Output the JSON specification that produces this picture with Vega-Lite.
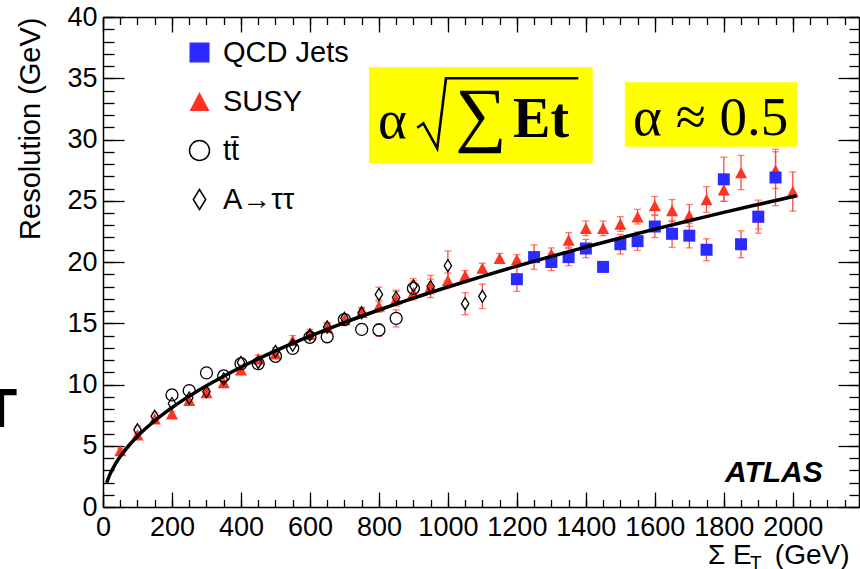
{
  "$schema": "https://vega.github.io/schema/vega-lite/v6.json",
  "width": 756,
  "height": 490,
  "autosize": {"type": "none"},
  "padding": {"left": 103, "top": 17, "right": 1, "bottom": 62},
  "background": "white",
  "config": {
    "view": {"stroke": null},
    "axis": {
      "grid": false,
      "domainColor": "#000",
      "domainWidth": 1.5,
      "tickColor": "#000",
      "tickWidth": 1.3,
      "labelColor": "#000",
      "labelFont": "Liberation Sans",
      "labelFlush": false,
      "labelOverlap": false,
      "format": "d"
    },
    "legend": {
      "orient": "none",
      "legendX": 82,
      "legendY": 21,
      "padding": 0,
      "labelFont": "Liberation Sans",
      "labelFontSize": 29,
      "labelColor": "#000",
      "labelOffset": 9,
      "symbolSize": 400,
      "symbolStrokeWidth": 1.5,
      "rowPadding": 19
    }
  },
  "datasets": {
    "boxes": [
      {"x1": 771, "x2": 1420, "y1": 28.06, "y2": 35.9},
      {"x1": 1513, "x2": 2012, "y1": 29.41, "y2": 34.67}
    ],
    "fit": [
      {"et": 10.7, "res": 1.98}, {"et": 20, "res": 2.66}, {"et": 35, "res": 3.47},
      {"et": 50, "res": 4.12}, {"et": 75, "res": 5.02}, {"et": 100, "res": 5.78},
      {"et": 150, "res": 7.04}, {"et": 200, "res": 8.11}, {"et": 250, "res": 9.05},
      {"et": 300, "res": 9.9}, {"et": 350, "res": 10.68}, {"et": 400, "res": 11.41},
      {"et": 500, "res": 12.74}, {"et": 600, "res": 13.94}, {"et": 700, "res": 15.05},
      {"et": 800, "res": 16.08}, {"et": 900, "res": 17.05}, {"et": 1000, "res": 17.96},
      {"et": 1100, "res": 18.83}, {"et": 1200, "res": 19.66}, {"et": 1300, "res": 20.46},
      {"et": 1400, "res": 21.22}, {"et": 1500, "res": 21.96}, {"et": 1600, "res": 22.68},
      {"et": 1700, "res": 23.37}, {"et": 1800, "res": 24.05}, {"et": 1900, "res": 24.7},
      {"et": 2011, "res": 25.41}
    ],
    "radical": [
      {"i": 0, "et": 911, "res": 30.96},
      {"i": 1, "et": 929, "res": 31.32},
      {"i": 2, "et": 969, "res": 29.28},
      {"i": 3, "et": 994.5, "res": 35.0},
      {"i": 4, "et": 1378, "res": 35.0}
    ],
    "serif": [
      {"t": "α", "et": 797, "res": 30.1},
      {"t": "α ≈ 0.5", "et": 1537, "res": 30.33}
    ],
    "sigma": [{"t": "∑", "et": 1096, "res": 31.9}],
    "bold": [{"t": "Et", "et": 1189, "res": 30.2}],
    "atlas": [{"t": "ATLAS", "et": 2087, "res": 2.07}],
    "xtitle": [
      {"t": "Σ E", "et": 1754, "res": -4.65},
      {"t": "(GeV)", "et": 1948, "res": -4.65}
    ],
    "xsub": [{"t": "T", "et": 1876, "res": -5.05}],
    "edge": [{"t": "T", "et": -298.6, "res": 6.53}],
    "pts": [
      {"series": "SUSY", "et": 50, "res": 4.6, "lo": 4.4, "hi": 4.8},
      {"series": "SUSY", "et": 100, "res": 5.9, "lo": 5.7, "hi": 6.1},
      {"series": "SUSY", "et": 150, "res": 7.2, "lo": 7.0, "hi": 7.4},
      {"series": "SUSY", "et": 200, "res": 7.6, "lo": 7.4, "hi": 7.8},
      {"series": "SUSY", "et": 250, "res": 8.7, "lo": 8.4, "hi": 9.0},
      {"series": "SUSY", "et": 300, "res": 9.35, "lo": 9.05, "hi": 9.65},
      {"series": "SUSY", "et": 350, "res": 10.15, "lo": 9.85, "hi": 10.45},
      {"series": "SUSY", "et": 400, "res": 11.2, "lo": 10.9, "hi": 11.5},
      {"series": "SUSY", "et": 450, "res": 12.1, "lo": 11.8, "hi": 12.4},
      {"series": "SUSY", "et": 500, "res": 12.5, "lo": 12.1, "hi": 12.9},
      {"series": "SUSY", "et": 550, "res": 13.6, "lo": 13.2, "hi": 14.0},
      {"series": "SUSY", "et": 600, "res": 14.1, "lo": 13.7, "hi": 14.5},
      {"series": "SUSY", "et": 650, "res": 14.65, "lo": 14.25, "hi": 15.05},
      {"series": "SUSY", "et": 700, "res": 15.3, "lo": 14.9, "hi": 15.7},
      {"series": "SUSY", "et": 750, "res": 15.9, "lo": 15.5, "hi": 16.3},
      {"series": "SUSY", "et": 800, "res": 16.4, "lo": 15.9, "hi": 16.9},
      {"series": "SUSY", "et": 850, "res": 17.0, "lo": 16.4, "hi": 17.6},
      {"series": "SUSY", "et": 900, "res": 17.5, "lo": 16.9, "hi": 18.1},
      {"series": "SUSY", "et": 950, "res": 18.0, "lo": 17.4, "hi": 18.6},
      {"series": "SUSY", "et": 1000, "res": 18.5, "lo": 17.9, "hi": 19.1},
      {"series": "SUSY", "et": 1050, "res": 18.9, "lo": 18.5, "hi": 19.3},
      {"series": "SUSY", "et": 1100, "res": 19.5, "lo": 19.1, "hi": 19.9},
      {"series": "SUSY", "et": 1150, "res": 20.3, "lo": 19.9, "hi": 20.7},
      {"series": "SUSY", "et": 1200, "res": 20.2, "lo": 19.8, "hi": 20.6},
      {"series": "SUSY", "et": 1250, "res": 20.4, "lo": 20.0, "hi": 20.8},
      {"series": "SUSY", "et": 1300, "res": 20.65, "lo": 20.15, "hi": 21.15},
      {"series": "SUSY", "et": 1350, "res": 21.8, "lo": 21.2, "hi": 22.4},
      {"series": "SUSY", "et": 1400, "res": 22.75, "lo": 22.15, "hi": 23.35},
      {"series": "SUSY", "et": 1450, "res": 22.75, "lo": 22.15, "hi": 23.35},
      {"series": "SUSY", "et": 1500, "res": 23.1, "lo": 22.5, "hi": 23.7},
      {"series": "SUSY", "et": 1550, "res": 23.7, "lo": 23.1, "hi": 24.3},
      {"series": "SUSY", "et": 1600, "res": 24.6, "lo": 23.85, "hi": 25.35},
      {"series": "SUSY", "et": 1650, "res": 24.2, "lo": 23.3, "hi": 25.1},
      {"series": "SUSY", "et": 1700, "res": 23.8, "lo": 22.9, "hi": 24.7},
      {"series": "SUSY", "et": 1750, "res": 25.1, "lo": 24.05, "hi": 26.15},
      {"series": "SUSY", "et": 1800, "res": 25.9, "lo": 24.95, "hi": 26.85},
      {"series": "SUSY", "et": 1850, "res": 27.3, "lo": 25.9, "hi": 28.7},
      {"series": "SUSY", "et": 1900, "res": 23.7, "lo": 22.7, "hi": 24.7},
      {"series": "SUSY", "et": 1950, "res": 27.5, "lo": 26.0, "hi": 29.0},
      {"series": "SUSY", "et": 2000, "res": 25.75, "lo": 24.15, "hi": 27.35},
      {"series": "tt̄", "et": 200, "res": 9.15, "lo": 8.85, "hi": 9.45},
      {"series": "tt̄", "et": 250, "res": 9.5, "lo": 9.2, "hi": 9.8},
      {"series": "tt̄", "et": 300, "res": 10.95, "lo": 10.65, "hi": 11.25},
      {"series": "tt̄", "et": 350, "res": 10.7, "lo": 10.4, "hi": 11.0},
      {"series": "tt̄", "et": 400, "res": 11.7, "lo": 11.4, "hi": 12.0},
      {"series": "tt̄", "et": 450, "res": 11.7, "lo": 11.4, "hi": 12.0},
      {"series": "tt̄", "et": 500, "res": 12.3, "lo": 12.0, "hi": 12.6},
      {"series": "tt̄", "et": 550, "res": 12.95, "lo": 12.65, "hi": 13.25},
      {"series": "tt̄", "et": 600, "res": 13.85, "lo": 13.45, "hi": 14.25},
      {"series": "tt̄", "et": 650, "res": 13.9, "lo": 13.5, "hi": 14.3},
      {"series": "tt̄", "et": 700, "res": 15.3, "lo": 14.9, "hi": 15.7},
      {"series": "tt̄", "et": 750, "res": 14.5, "lo": 14.1, "hi": 14.9},
      {"series": "tt̄", "et": 800, "res": 14.45, "lo": 13.95, "hi": 14.95},
      {"series": "tt̄", "et": 850, "res": 15.4, "lo": 14.7, "hi": 16.1},
      {"series": "tt̄", "et": 900, "res": 17.85, "lo": 17.25, "hi": 18.45},
      {"series": "A→ττ", "et": 100, "res": 6.3, "lo": 6.0, "hi": 6.6},
      {"series": "A→ττ", "et": 150, "res": 7.4, "lo": 7.1, "hi": 7.7},
      {"series": "A→ττ", "et": 200, "res": 8.45, "lo": 8.15, "hi": 8.75},
      {"series": "A→ττ", "et": 250, "res": 8.9, "lo": 8.6, "hi": 9.2},
      {"series": "A→ττ", "et": 300, "res": 9.4, "lo": 9.1, "hi": 9.7},
      {"series": "A→ττ", "et": 350, "res": 10.45, "lo": 10.15, "hi": 10.75},
      {"series": "A→ττ", "et": 400, "res": 11.8, "lo": 11.5, "hi": 12.1},
      {"series": "A→ττ", "et": 450, "res": 11.8, "lo": 11.5, "hi": 12.1},
      {"series": "A→ττ", "et": 500, "res": 12.7, "lo": 12.4, "hi": 13.0},
      {"series": "A→ττ", "et": 550, "res": 13.2, "lo": 12.9, "hi": 13.5},
      {"series": "A→ττ", "et": 600, "res": 14.05, "lo": 13.75, "hi": 14.35},
      {"series": "A→ττ", "et": 650, "res": 14.7, "lo": 14.4, "hi": 15.0},
      {"series": "A→ττ", "et": 700, "res": 15.4, "lo": 15.1, "hi": 15.7},
      {"series": "A→ττ", "et": 750, "res": 15.85, "lo": 15.5, "hi": 16.2},
      {"series": "A→ττ", "et": 800, "res": 17.35, "lo": 16.75, "hi": 17.95},
      {"series": "A→ττ", "et": 850, "res": 17.1, "lo": 16.5, "hi": 17.7},
      {"series": "A→ττ", "et": 900, "res": 18.05, "lo": 17.45, "hi": 18.65},
      {"series": "A→ττ", "et": 950, "res": 18.0, "lo": 17.1, "hi": 18.9},
      {"series": "A→ττ", "et": 1000, "res": 19.7, "lo": 18.5, "hi": 20.9},
      {"series": "A→ττ", "et": 1050, "res": 16.6, "lo": 15.7, "hi": 17.5},
      {"series": "A→ττ", "et": 1100, "res": 17.2, "lo": 16.2, "hi": 18.2},
      {"series": "QCD Jets", "et": 1200, "res": 18.6, "lo": 17.6, "hi": 19.6},
      {"series": "QCD Jets", "et": 1250, "res": 20.4, "lo": 19.4, "hi": 21.4},
      {"series": "QCD Jets", "et": 1300, "res": 20.0, "lo": 19.3, "hi": 20.7},
      {"series": "QCD Jets", "et": 1350, "res": 20.4, "lo": 19.7, "hi": 21.1},
      {"series": "QCD Jets", "et": 1400, "res": 21.1, "lo": 20.35, "hi": 21.85},
      {"series": "QCD Jets", "et": 1450, "res": 19.6, "lo": 19.2, "hi": 20.0},
      {"series": "QCD Jets", "et": 1500, "res": 21.45, "lo": 20.65, "hi": 22.25},
      {"series": "QCD Jets", "et": 1550, "res": 21.7, "lo": 20.95, "hi": 22.45},
      {"series": "QCD Jets", "et": 1600, "res": 22.9, "lo": 22.0, "hi": 23.8},
      {"series": "QCD Jets", "et": 1650, "res": 22.3, "lo": 21.2, "hi": 23.4},
      {"series": "QCD Jets", "et": 1700, "res": 22.15, "lo": 21.15, "hi": 23.15},
      {"series": "QCD Jets", "et": 1750, "res": 21.0, "lo": 20.1, "hi": 21.9},
      {"series": "QCD Jets", "et": 1800, "res": 26.75, "lo": 24.95, "hi": 28.55},
      {"series": "QCD Jets", "et": 1850, "res": 21.45, "lo": 20.35, "hi": 22.55},
      {"series": "QCD Jets", "et": 1900, "res": 23.7, "lo": 22.35, "hi": 25.05},
      {"series": "QCD Jets", "et": 1950, "res": 26.9, "lo": 24.6, "hi": 29.2}
    ]
  },
  "resolve": {"axis": {"x": "independent", "y": "independent"}},
  "layer": [
    {
      "data": {"name": "boxes"},
      "mark": {"type": "rect", "color": "#ffff00"},
      "encoding": {
        "x": {"field": "x1", "type": "quantitative", "scale": {"domain": [0, 2192], "nice": false, "zero": false},
          "axis": {"orient": "bottom", "values": [0, 200, 400, 600, 800, 1000, 1200, 1400, 1600, 1800, 2000], "ticks": false, "domain": true, "labelFontSize": 27, "labelPadding": 7, "title": null}},
        "x2": {"field": "x2"},
        "y": {"field": "y1", "type": "quantitative", "scale": {"domain": [0, 40], "nice": false, "zero": false},
          "axis": {"orient": "left", "values": [0, 5, 10, 15, 20, 25, 30, 35, 40], "ticks": false, "domain": true, "labelFontSize": 27, "labelPadding": 6,
            "title": "Resolution (GeV)", "titleFont": "Liberation Sans", "titleFontSize": 29, "titleFontWeight": "normal", "titleColor": "#000",
            "titleAngle": 270, "titleAlign": "right", "titleBaseline": "middle", "titleX": -73, "titleY": 0}},
        "y2": {"field": "y2"}
      }
    },
    {
      "data": {"name": "pts"},
      "mark": {"type": "errorbar", "color": "#ff4a3d", "thickness": 1.3, "ticks": {"size": 7, "thickness": 1.3}},
      "encoding": {
        "x": {"field": "et", "type": "quantitative", "axis": null},
        "y": {"field": "lo", "type": "quantitative", "axis": null},
        "y2": {"field": "hi"}
      }
    },
    {
      "data": {"name": "pts"},
      "transform": [{"filter": {"field": "series", "equal": "tt̄"}}],
      "mark": {"type": "point", "shape": "circle", "filled": true, "color": "white", "size": 144, "opacity": 1},
      "encoding": {
        "x": {"field": "et", "type": "quantitative", "axis": null},
        "y": {"field": "res", "type": "quantitative", "axis": null}
      }
    },
    {
      "data": {"name": "pts"},
      "transform": [{"filter": {"field": "series", "equal": "A→ττ"}}],
      "mark": {"type": "point", "shape": "M0,-1L0.62,0L0,1L-0.62,0Z", "filled": true, "color": "white", "size": 144, "opacity": 1},
      "encoding": {
        "x": {"field": "et", "type": "quantitative", "axis": null},
        "y": {"field": "res", "type": "quantitative", "axis": null}
      }
    },
    {
      "data": {"name": "pts"},
      "mark": {"type": "point", "size": 144, "opacity": 1, "strokeWidth": 1.3},
      "encoding": {
        "x": {"field": "et", "type": "quantitative",
          "axis": {"orient": "bottom", "values": [0, 200, 400, 600, 800, 1000, 1200, 1400, 1600, 1800, 2000], "tickSize": -15, "labels": false, "domain": false, "title": null}},
        "y": {"field": "res", "type": "quantitative",
          "axis": {"orient": "left", "values": [0, 5, 10, 15, 20, 25, 30, 35, 40], "tickSize": -21, "labels": false, "domain": false, "title": null}},
        "shape": {"field": "series", "type": "nominal",
          "scale": {"domain": ["QCD Jets", "SUSY", "tt̄", "A→ττ"], "range": ["square", "M0,-0.95L1,0.95L-1,0.95Z", "circle", "M0,-1L0.62,0L0,1L-0.62,0Z"]},
          "legend": {"title": null}},
        "fill": {"field": "series", "type": "nominal",
          "scale": {"domain": ["QCD Jets", "SUSY", "tt̄", "A→ττ"], "range": ["#2b2bff", "#ff3322", "transparent", "transparent"]},
          "legend": {"title": null}},
        "stroke": {"field": "series", "type": "nominal",
          "scale": {"domain": ["QCD Jets", "SUSY", "tt̄", "A→ττ"], "range": ["transparent", "transparent", "#000", "#000"]},
          "legend": {"title": null}}
      }
    },
    {
      "data": {"name": "fit"},
      "mark": {"type": "line", "color": "#000", "strokeWidth": 3.5, "interpolate": "monotone"},
      "encoding": {
        "x": {"field": "et", "type": "quantitative",
          "axis": {"orient": "bottom", "values": [0, 50, 100, 150, 200, 250, 300, 350, 400, 450, 500, 550, 600, 650, 700, 750, 800, 850, 900, 950, 1000, 1050, 1100, 1150, 1200, 1250, 1300, 1350, 1400, 1450, 1500, 1550, 1600, 1650, 1700, 1750, 1800, 1850, 1900, 1950, 2000, 2050, 2100, 2150], "tickSize": -7.5, "labels": false, "domain": false, "title": null}},
        "y": {"field": "res", "type": "quantitative",
          "axis": {"orient": "left", "values": [0, 1, 2, 3, 4, 5, 6, 7, 8, 9, 10, 11, 12, 13, 14, 15, 16, 17, 18, 19, 20, 21, 22, 23, 24, 25, 26, 27, 28, 29, 30, 31, 32, 33, 34, 35, 36, 37, 38, 39, 40], "tickSize": -11, "labels": false, "domain": false, "title": null}}
      }
    },
    {
      "data": {"name": "radical"},
      "mark": {"type": "line", "color": "#000", "strokeWidth": 2.6, "strokeJoin": "miter"},
      "encoding": {
        "x": {"field": "et", "type": "quantitative",
          "axis": {"orient": "top", "values": [0, 200, 400, 600, 800, 1000, 1200, 1400, 1600, 1800, 2000], "tickSize": -15, "labels": false, "domain": true, "title": null}},
        "y": {"field": "res", "type": "quantitative",
          "axis": {"orient": "right", "values": [0, 5, 10, 15, 20, 25, 30, 35, 40], "tickSize": -21, "labels": false, "domain": true, "title": null}},
        "order": {"field": "i", "type": "quantitative"}
      }
    },
    {
      "data": {"name": "serif"},
      "mark": {"type": "text", "font": "Liberation Serif", "fontSize": 55, "align": "left", "baseline": "alphabetic", "color": "#000"},
      "encoding": {
        "x": {"field": "et", "type": "quantitative",
          "axis": {"orient": "top", "values": [0, 50, 100, 150, 200, 250, 300, 350, 400, 450, 500, 550, 600, 650, 700, 750, 800, 850, 900, 950, 1000, 1050, 1100, 1150, 1200, 1250, 1300, 1350, 1400, 1450, 1500, 1550, 1600, 1650, 1700, 1750, 1800, 1850, 1900, 1950, 2000, 2050, 2100, 2150], "tickSize": -7.5, "labels": false, "domain": false, "title": null}},
        "y": {"field": "res", "type": "quantitative",
          "axis": {"orient": "right", "values": [0, 1, 2, 3, 4, 5, 6, 7, 8, 9, 10, 11, 12, 13, 14, 15, 16, 17, 18, 19, 20, 21, 22, 23, 24, 25, 26, 27, 28, 29, 30, 31, 32, 33, 34, 35, 36, 37, 38, 39, 40], "tickSize": -10, "labels": false, "domain": false, "title": null}},
        "text": {"field": "t"}
      }
    },
    {
      "data": {"name": "sigma"},
      "mark": {"type": "text", "font": "Liberation Serif", "fontSize": 72, "align": "center", "baseline": "middle", "color": "#000"},
      "encoding": {
        "x": {"field": "et", "type": "quantitative", "axis": null},
        "y": {"field": "res", "type": "quantitative", "axis": null},
        "text": {"field": "t"}
      }
    },
    {
      "data": {"name": "bold"},
      "mark": {"type": "text", "font": "Liberation Serif", "fontWeight": "bold", "fontSize": 56, "align": "left", "baseline": "alphabetic", "color": "#000"},
      "encoding": {
        "x": {"field": "et", "type": "quantitative", "axis": null},
        "y": {"field": "res", "type": "quantitative", "axis": null},
        "text": {"field": "t"}
      }
    },
    {
      "data": {"name": "atlas"},
      "mark": {"type": "text", "font": "Liberation Sans", "fontWeight": "bold", "fontStyle": "italic", "fontSize": 30, "align": "right", "baseline": "alphabetic", "color": "#000"},
      "encoding": {
        "x": {"field": "et", "type": "quantitative", "axis": null},
        "y": {"field": "res", "type": "quantitative", "axis": null},
        "text": {"field": "t"}
      }
    },
    {
      "data": {"name": "xtitle"},
      "mark": {"type": "text", "font": "Liberation Sans", "fontSize": 28, "align": "left", "baseline": "alphabetic", "color": "#000"},
      "encoding": {
        "x": {"field": "et", "type": "quantitative", "axis": null},
        "y": {"field": "res", "type": "quantitative", "axis": null},
        "text": {"field": "t"}
      }
    },
    {
      "data": {"name": "xsub"},
      "mark": {"type": "text", "font": "Liberation Sans", "fontSize": 19, "align": "left", "baseline": "alphabetic", "color": "#000"},
      "encoding": {
        "x": {"field": "et", "type": "quantitative", "axis": null},
        "y": {"field": "res", "type": "quantitative", "axis": null},
        "text": {"field": "t"}
      }
    },
    {
      "data": {"name": "edge"},
      "mark": {"type": "text", "font": "Liberation Sans", "fontWeight": "bold", "fontSize": 56, "align": "center", "baseline": "alphabetic", "color": "#000"},
      "encoding": {
        "x": {"field": "et", "type": "quantitative", "axis": null},
        "y": {"field": "res", "type": "quantitative", "axis": null},
        "text": {"field": "t"}
      }
    }
  ]
}
